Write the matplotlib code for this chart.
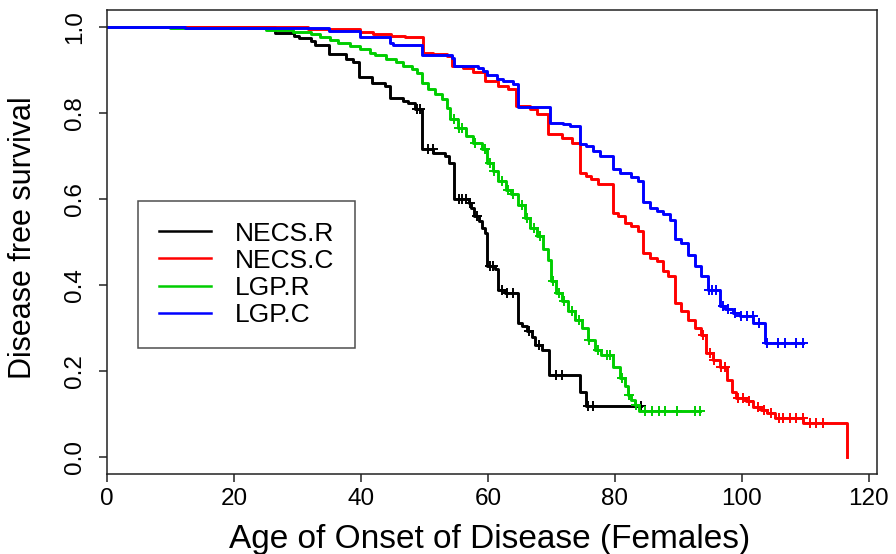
import numpy as np
import matplotlib.pyplot as plt

plt.rcParams['font.family'] = ['Liberation Sans', 'DejaVu Sans']

# Kaplan-Meier curves: event times and survival after each step
necs_r_t = [0, 26.5, 29.4, 30.2, 32.2, 32.8, 34.9, 37.7, 38.7, 39.7, 41.7, 43.8, 44.6, 46.7,
            47.4, 48.5, 49.7, 51.4, 53.2, 53.8, 54.6, 57.0, 57.4, 57.8, 58.6, 59.0, 59.5, 59.9,
            61.1, 61.6, 62.7, 64.8, 65.4, 66.1, 66.9, 67.4, 68.5, 69.6, 74.5, 75.5]
necs_r_s = [1.0, 0.986, 0.980, 0.974, 0.968, 0.958, 0.937, 0.927, 0.919, 0.883, 0.871, 0.863,
            0.834, 0.828, 0.823, 0.809, 0.717, 0.708, 0.700, 0.685, 0.599, 0.591, 0.580, 0.560,
            0.548, 0.533, 0.521, 0.444, 0.436, 0.389, 0.382, 0.312, 0.304, 0.292, 0.280, 0.261,
            0.249, 0.191, 0.152, 0.119]
necs_r_cens = [48.8, 49.3, 50.6, 51.3, 55.5, 56.0, 56.6, 57.2, 58.3, 60.3, 60.8, 62.2, 63.0,
               64.0, 66.5, 68.0, 70.7, 71.6, 75.8, 76.5, 84.2]

necs_c_t = [0, 31.7, 39.8, 41.9, 44.8, 46.9, 49.8, 51.4, 53.5, 54.3, 56.1, 57.7, 59.5, 61.6,
            63.2, 64.5, 66.6, 67.7, 69.5, 71.6, 73.2, 74.5, 75.5, 76.3, 77.4, 79.7, 80.5, 81.6,
            82.6, 83.7, 84.5, 85.5, 86.6, 87.6, 88.4, 89.4, 90.5, 91.5, 92.6, 93.6, 94.4, 95.5,
            96.5, 97.6, 98.4, 99.1, 100.7, 101.8, 103.1, 103.9, 105.2, 109.7, 116.5]
necs_c_s = [1.0, 0.995, 0.988, 0.984, 0.980, 0.976, 0.941, 0.937, 0.932, 0.910, 0.904, 0.896,
            0.875, 0.863, 0.855, 0.817, 0.809, 0.797, 0.751, 0.743, 0.731, 0.661, 0.653, 0.646,
            0.634, 0.568, 0.560, 0.545, 0.537, 0.525, 0.475, 0.463, 0.455, 0.432, 0.420, 0.358,
            0.339, 0.319, 0.300, 0.284, 0.242, 0.226, 0.210, 0.179, 0.152, 0.137, 0.129, 0.117,
            0.110, 0.102, 0.090, 0.079, 0.0]
necs_c_cens = [93.9, 95.0, 95.7, 96.8, 97.4, 99.4, 100.2, 101.2, 102.5, 103.5, 104.6, 105.8,
               106.5, 107.6, 108.6, 109.6, 110.7, 111.7, 112.8]

lgp_r_t = [0, 10.0, 25.0, 29.3, 32.2, 33.5, 35.1, 36.4, 38.3, 39.8, 41.4, 42.2, 44.0, 45.6,
           46.7, 48.0, 48.8, 49.6, 50.5, 51.7, 52.7, 53.5, 54.0, 55.3, 56.6, 57.7, 59.0, 59.9,
           60.8, 61.6, 62.9, 63.7, 64.8, 65.8, 66.6, 67.7, 68.7, 69.5, 69.9, 70.8, 71.6, 72.6,
           73.7, 74.8, 75.8, 76.9, 77.9, 79.7, 80.8, 81.6, 82.1, 82.6, 83.1, 83.8]
lgp_r_s = [1.0, 0.997, 0.993, 0.988, 0.984, 0.978, 0.970, 0.964, 0.956, 0.950, 0.941, 0.935,
           0.927, 0.918, 0.910, 0.902, 0.894, 0.871, 0.855, 0.844, 0.832, 0.813, 0.786, 0.766,
           0.747, 0.731, 0.716, 0.685, 0.665, 0.642, 0.622, 0.611, 0.587, 0.556, 0.533, 0.514,
           0.483, 0.459, 0.409, 0.382, 0.362, 0.339, 0.319, 0.300, 0.273, 0.249, 0.238, 0.210,
           0.183, 0.164, 0.145, 0.133, 0.121, 0.106]
lgp_r_cens = [54.6, 55.5, 56.0, 58.0, 59.5, 60.3, 61.0, 62.3, 63.2, 64.0, 65.3, 66.2, 67.2,
              68.2, 70.3, 71.2, 72.0, 73.2, 74.3, 76.0, 77.4, 78.8, 79.2, 81.2, 82.3, 83.4,
              84.7, 85.8, 86.9, 87.9, 89.8, 92.6, 93.4]

lgp_c_t = [0, 12.3, 34.9, 39.8, 44.6, 45.1, 49.6, 54.3, 54.6, 58.5, 59.3, 59.8, 61.4, 62.4,
           64.0, 64.8, 69.8, 71.9, 72.9, 74.5, 75.5, 76.6, 77.6, 79.7, 80.8, 82.6, 83.7, 84.5,
           85.5, 86.6, 87.6, 88.7, 89.4, 90.5, 91.5, 92.6, 93.6, 94.7, 96.5, 97.3, 98.6, 99.7,
           101.8, 103.6]
lgp_c_s = [1.0, 0.998, 0.991, 0.976, 0.964, 0.958, 0.935, 0.929, 0.910, 0.904, 0.898, 0.888,
           0.880, 0.875, 0.867, 0.815, 0.778, 0.774, 0.769, 0.727, 0.723, 0.712, 0.699, 0.669,
           0.661, 0.652, 0.642, 0.593, 0.580, 0.572, 0.564, 0.552, 0.506, 0.498, 0.469, 0.444,
           0.420, 0.389, 0.350, 0.343, 0.335, 0.327, 0.312, 0.265]
lgp_c_cens = [94.8, 95.3, 96.0, 97.0, 97.8, 98.9, 99.9, 100.8, 101.7, 102.7, 103.9, 105.7,
              106.8, 108.6, 109.7]

labels = ['NECS.R', 'NECS.C', 'LGP.R', 'LGP.C']
colors = ['black', '#FF0000', '#00CD00', '#0000FF']

curves = [(necs_r_t, necs_r_s, necs_r_cens),
          (necs_c_t, necs_c_s, necs_c_cens),
          (lgp_r_t, lgp_r_s, lgp_r_cens),
          (lgp_c_t, lgp_c_s, lgp_c_cens)]

fig = plt.figure(figsize=(8.96, 5.54), dpi=100)
ax = fig.add_axes([0.1194, 0.1444, 0.8594, 0.8376])

for (t, s, cens), lab, col in zip(curves, labels, colors):
    t = np.array(t)
    s = np.array(s)
    cens = np.array(cens)
    # extend the last level to the last follow-up time
    end = max(t[-1], cens.max())
    tt = np.append(t, end)
    ss = np.append(s, s[-1])
    ax.step(tt, ss, where='post', color=col, lw=2.1, label=lab)
    cs = s[np.searchsorted(t, cens, side='right') - 1]
    ax.plot(cens, cs, ls='none', marker='+', ms=7, mew=1.4, color=col)

ax.set_xlim(0, 121.3)
ax.set_ylim(-0.04, 1.04)
ax.set_xticks([0, 20, 40, 60, 80, 100, 120])
ax.set_yticks([0.0, 0.2, 0.4, 0.6, 0.8, 1.0])
ax.set_yticklabels(['0.0', '0.2', '0.4', '0.6', '0.8', '1.0'], rotation=90, va='center')
ax.tick_params(axis='both', length=6, width=1.1, labelsize=17.5, color='#222222')
ax.tick_params(axis='x', pad=4)
ax.tick_params(axis='y', pad=9)
for sp in ax.spines.values():
    sp.set_linewidth(1.1)
    sp.set_color('#222222')

ax.set_xlabel('Age of Onset of Disease (Females)', fontsize=24, va='center')
ax.xaxis.set_label_coords(0.497, -0.142)
ax.set_ylabel('Disease free survival', fontsize=22, va='center')
ax.yaxis.set_label_coords(-0.109, 0.51)

leg = ax.legend(loc='upper left', bbox_to_anchor=(0.0406, 0.5884), borderaxespad=0,
                fontsize=19, frameon=True, fancybox=False, edgecolor='#222222',
                handlelength=1.97, handletextpad=0.9, labelspacing=0.12, borderpad=0.78)
leg.get_frame().set_linewidth(1.1)
for h in leg.get_lines():
    h.set_linewidth(1.8)

fig.savefig('out.png', dpi=100)
